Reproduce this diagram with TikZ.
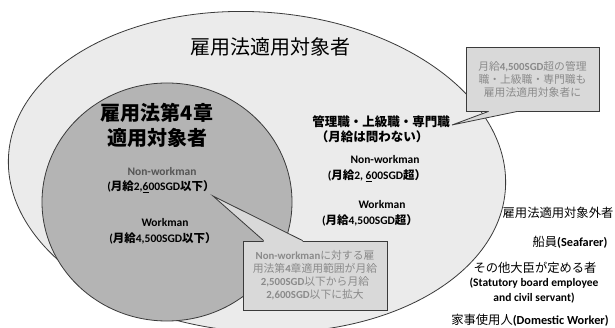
\documentclass[tikz,border=0pt]{standalone}
\usepackage{fontspec}
\setmainfont{Carlito}
\newfontfamily\cjk{Noto Sans CJK JP}
\newcommand{\J}[1]{{\cjk #1}}
\usetikzlibrary{calc}
\definecolor{outerfill}{HTML}{EBEBEB}
\definecolor{innerfill}{HTML}{B4B4B4}
\definecolor{boxfill}{HTML}{D9D9D9}
\definecolor{edge}{HTML}{3A3A3A}
\definecolor{boxtext}{HTML}{8A8A8A}
\definecolor{midgray}{HTML}{555555}
\tikzset{
  lbl/.style={align=center, inner sep=0pt, font=\fontsize{11.5}{14}\selectfont\bfseries},
  jlbl/.style={align=center, inner sep=0pt, font=\fontsize{12.3}{15}\selectfont},
  calloutbox/.style={draw=edge, line width=0.8pt, fill=boxfill, inner sep=0pt, align=center,
     text=boxtext, font=\fontsize{10.8}{13}\selectfont},
  tailline/.style={draw=edge, line width=0.8pt, line join=miter}
}
\begin{document}
\begin{tikzpicture}[x=1pt,y=-1pt]
\useasboundingbox (0,0) rectangle (615,328);
\fill[white] (0,0) rectangle (615,328);
% outer ellipse
\path[draw=edge, line width=0.8pt, fill=outerfill, shift={(257,172)}, rotate=-4]
  (0,0) ellipse [x radius=249pt, y radius=160pt];
% inner circle
\path[draw=edge, line width=0.8pt, fill=innerfill]
  (167,202) ellipse [x radius=125pt, y radius=119pt];

% title
\node[inner sep=0pt, font=\cjk\fontsize{20}{24}\selectfont] (title) at (270,47) {雇用法適用対象者};
% inner title
\node[align=center, inner sep=0pt, font=\cjk\fontsize{20}{25}\selectfont\bfseries] (ititle) at (157,125.5) {雇用法第4章\\適用対象者};

% inner circle texts
\node[lbl, text=midgray] (inw) at (162,172) {Non-workman};
\node[lbl] (inws) at (161,187) {(\J{月給}2,\underline{6}00SGD\J{以下）}};
\node[lbl] (iw) at (165,223) {Workman};
\node[lbl] (iws) at (163,238) {(\J{月給}4,500SGD\J{以下）}};

% right inside ellipse
\node[inner sep=0pt, font=\cjk\fontsize{12.5}{15}\selectfont\bfseries] (mgr) at (381,122) {管理職・上級職・専門職};
\node[inner sep=0pt, font=\cjk\fontsize{12.5}{15}\selectfont\bfseries] (mgrs) at (372,137) {（月給は問わない）};
\node[lbl] (onw) at (385,160) {Non-workman};
\node[lbl] (onws) at (377,176) {(\J{月給}2, \underline{6}00SGD\J{超）}};
\node[lbl] (ow) at (382,205) {Workman};
\node[lbl] (ows) at (370,220) {(\J{月給}4,500SGD\J{超）}};

% outside column
\node[jlbl] (ex) at (558,213) {\J{雇用法適用対象外者}};
\node[jlbl] (sea) at (570,242) {\J{船員}\textbf{(Seafarer)}};
\node[jlbl] (oth) at (535,268) {\J{その他大臣が定める者}};
\node[lbl] (stat1) at (534,283) {(Statutory board employee};
\node[lbl] (stat2) at (534,298) {and civil servant)};
\node[jlbl] (dom) at (530,320) {\J{家事使用人}\textbf{(Domestic Worker)}};

% callout box 1
\node[calloutbox, minimum width=133pt, minimum height=64pt] (b1) at (532.5,79)
  {\J{月給}\textbf{4,500SGD}\J{超の管理}\\\J{職・上級職・専門職も}\\\J{雇用法適用対象者に}};
\coordinate (tip1) at (452,125);
\coordinate (t1a) at ($(b1.south west)+(23,0)$);
\coordinate (t1b) at ($(b1.south west)+(52,0)$);
\fill[boxfill] (t1a) -- (tip1) -- (t1b) -- ($(t1b)+(0,-2)$) -- ($(t1a)+(0,-2)$) -- cycle;
\draw[tailline] (t1a) -- (tip1) -- (t1b);

% callout box 2
\node[calloutbox, minimum width=144pt, minimum height=69pt] (b2) at (315,275.5)
  {\textbf{Non-workman}\J{に対する雇}\\\J{用法第}\textbf{4}\J{章適用範囲が月給}\\\textbf{2,500SGD}\J{以下から月給}\\\textbf{2,600SGD}\J{以下に拡大}};
\coordinate (tip2) at (213,196);
\coordinate (t2a) at ($(b2.north west)+(21,0)$);
\coordinate (t2b) at ($(b2.north west)+(60,0)$);
\fill[boxfill] (t2a) -- (tip2) -- (t2b) -- ($(t2b)+(0,2)$) -- ($(t2a)+(0,2)$) -- cycle;
\draw[tailline] (t2a) -- (tip2) -- (t2b);
\end{tikzpicture}
\end{document}
